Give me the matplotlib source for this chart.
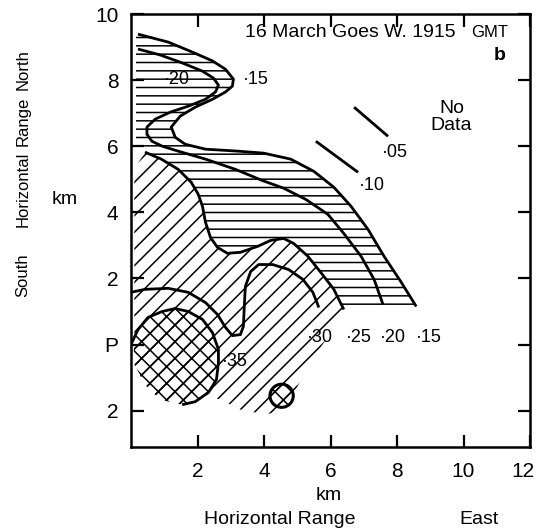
import numpy as np
import matplotlib
matplotlib.use("Agg")
import matplotlib.pyplot as plt
from matplotlib.patches import Polygon, Circle
from matplotlib.transforms import ScaledTranslation

plt.rcParams['font.family'] = ['Liberation Sans', 'DejaVu Sans']
plt.rcParams['hatch.linewidth'] = 1.1

# contour lines (km east, km north of P)
c15 = [(0.21, 9.39), (1.12, 9.15), (1.84, 8.85), (2.45, 8.58), (2.84, 8.33), (3.08, 8.03),
       (3.05, 7.82), (2.84, 7.64), (2.45, 7.42), (1.93, 7.18), (1.48, 6.91), (1.21, 6.58),
       (1.33, 6.27), (1.63, 6.06), (2.24, 5.91), (3.23, 5.85), (3.99, 5.79), (4.80, 5.61),
       (5.50, 5.24), (6.10, 4.76), (6.62, 4.18), (7.13, 3.48), (7.61, 2.67), (8.13, 1.88),
       (8.58, 1.15)]
c20 = [(0.21, 8.94), (0.88, 8.76), (1.54, 8.52), (2.15, 8.27), (2.48, 8.06), (2.63, 7.85),
       (2.54, 7.64), (2.24, 7.42), (1.72, 7.21), (1.18, 7.03), (0.73, 6.82), (0.48, 6.58),
       (0.48, 6.36), (0.63, 6.15), (0.94, 6.00), (1.42, 5.85), (2.24, 5.61), (3.14, 5.30),
       (3.93, 4.97), (4.59, 4.73), (5.26, 4.39), (5.92, 3.94), (6.40, 3.36), (6.92, 2.67),
       (7.31, 1.97), (7.58, 1.21)]
c25 = [(0.42, 5.82), (0.91, 5.61), (1.42, 5.30), (1.81, 4.91), (2.02, 4.55), (2.15, 4.18),
       (2.24, 3.70), (2.39, 3.24), (2.60, 2.94), (2.90, 2.76), (3.29, 2.79), (3.81, 2.97),
       (4.20, 3.15), (4.59, 3.21), (4.89, 3.06), (5.32, 2.67), (5.71, 2.18), (6.10, 1.67),
       (6.40, 1.06)]
c30 = [(0.0, 1.58), (0.42, 1.67), (1.12, 1.70), (1.72, 1.58), (2.24, 1.27), (2.60, 0.91),
       (2.84, 0.52), (3.05, 0.27), (3.29, 0.30), (3.38, 0.55), (3.41, 1.21), (3.44, 1.76),
       (3.60, 2.21), (3.84, 2.42), (4.26, 2.42), (4.74, 2.27), (5.17, 1.97), (5.47, 1.58),
       (5.65, 1.12)]
c35 = [(0.0, 0.0), (0.21, 0.45), (0.51, 0.82), (0.94, 1.00), (1.33, 1.09), (1.72, 1.00),
       (2.15, 0.76), (2.45, 0.36), (2.63, -0.15), (2.63, -0.55), (2.57, -1.06), (2.33, -1.45),
       (1.93, -1.73), (1.54, -1.82)]
c10 = [(5.56, 6.15), (6.83, 5.21)]
c05 = [(6.71, 7.18), (7.73, 6.30)]

# edges of the hatched areas where no contour is drawn
edge_left_top = [(0.15, 5.85), (0.15, 9.39)]
edge_band_bottom = [(7.58, 1.10), (6.40, 1.06)]
edge_diag_lower = [(5.86, 0.15), (5.26, -0.76), (4.96, -1.36), (4.65, -1.97), (4.05, -2.12),
                   (3.29, -1.97), (2.69, -1.67), (2.24, -1.52)]
edge_cross_lower = [(1.54, -1.82), (0.88, -1.67), (0.42, -1.21), (0.06, -0.52), (0.1, 0.0)]
edge_diag_left = [(0.1, 5.3)]
spot_centre = (4.53, -1.55)
spot_radius = 0.35

labels = [('·20', 1.0, 8.03), ('·15', 3.36, 8.03), ('·05', 7.56, 5.82), ('·10', 6.84, 4.82),
          ('·30', 5.30, 0.21), ('·25', 6.45, 0.21), ('·20', 7.50, 0.21), ('·15', 8.56, 0.21),
          ('·35', 2.73, -0.52)]

yticks = [10, 8, 6, 4, 2, 0, -2]
yticklabels = ['10', '8', '6', '4', '2', 'P', '2']
xticks = [2, 4, 6, 8, 10, 12]

fig = plt.figure(figsize=(5.39, 5.31), dpi=100)
ax = fig.add_axes([131/539, 1-447/531, 399/539, 433/531])
ax.set_xlim(0, 12)
ax.set_ylim(-3.1, 10)

# hatched areas
band = c15 + edge_band_bottom + c25[::-1] + edge_left_top
ax.add_patch(Polygon(band, closed=True, fill=False, hatch='--', edgecolor='black', linewidth=0))
diag = c25 + edge_diag_lower + edge_cross_lower + edge_diag_left
ax.add_patch(Polygon(diag, closed=True, fill=False, hatch='//', edgecolor='black', linewidth=0))
cross = c35 + edge_cross_lower
ax.add_patch(Polygon(cross, closed=True, fill=False, hatch='xx', edgecolor='black', linewidth=0))
ax.add_patch(Circle(spot_centre, spot_radius, fill=False, hatch='xx', edgecolor='black', linewidth=2.2))

for c in [c15, c20, c25, c30, c35, c10, c05]:
    xs, ys = zip(*c)
    ax.plot(xs, ys, color='black', lw=2.0, solid_capstyle='butt')

for t, x, y in labels:
    ax.text(x, y, t, fontsize=13, ha='left', va='center')

ax.text(3.44, 9.45, '16 March Goes W. 1915', fontsize=14, ha='left', va='center')
ax.text(10.24, 9.45, 'GMT', fontsize=12, ha='left', va='center')
ax.text(11.1, 8.73, 'b', fontsize=14, fontweight='bold', ha='center', va='center')
ax.text(9.64, 6.88, 'No\nData', fontsize=14, ha='center', va='center', linespacing=1.0)

ax.set_xticks(xticks)
ax.set_yticks(yticks)
ax.set_yticklabels(yticklabels)
ax.tick_params(direction='in', top=True, right=True, length=9, width=1.6,
               labelsize=15, pad=9)
ax.tick_params(axis='x', pad=11)
for s in ax.spines.values():
    s.set_linewidth(1.8)
last = ax.get_xticklabels()[-1]
last.set_transform(last.get_transform() + ScaledTranslation(-5/72, 0, fig.dpi_scale_trans))

fig.text(329/539, 1-495/531, 'km', fontsize=14, ha='center', va='center')
fig.text(280/539, 1-519/531, 'Horizontal Range', fontsize=14, ha='center', va='center')
fig.text(479/539, 1-519/531, 'East', fontsize=14, ha='center', va='center')
fig.text(23/539, 1-70/531, 'North', fontsize=12, rotation=90, ha='center', va='center')
fig.text(23/539, 1-121/531, 'Range', fontsize=12, rotation=90, ha='center', va='center')
fig.text(23/539, 1-189/531, 'Horizontal', fontsize=12, rotation=90, ha='center', va='center')
fig.text(23/539, 1-275/531, 'South', fontsize=12, rotation=90, ha='center', va='center')
fig.text(65/539, 1-200/531, 'km', fontsize=14, ha='center', va='center')

fig.savefig('out.png', dpi=100)
